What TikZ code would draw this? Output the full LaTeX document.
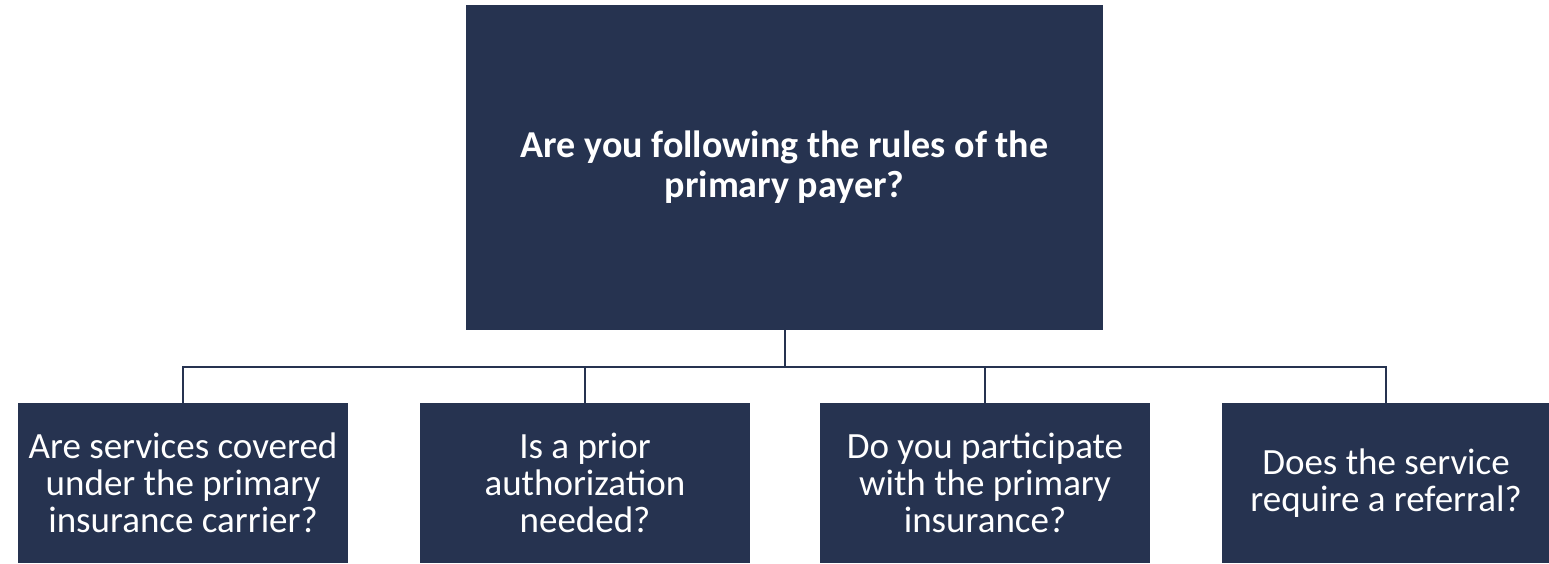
\documentclass[tikz,border=0pt]{standalone}
\usepackage{fontspec}
\setmainfont{Carlito}
\usepackage{tikz}

\definecolor{navy}{HTML}{263350}

\tikzset{
  qbox/.style={fill=navy, text=white, align=center, inner sep=4pt,
    minimum width=330pt, minimum height=160pt,
    font=\fontsize{37}{37}\selectfont},
  topbox/.style={qbox, minimum width=637pt, minimum height=325pt,
    font=\fontsize{38}{40}\selectfont\bfseries},
  link/.style={draw=navy, line width=2pt}
}

\begin{document}
\begin{tikzpicture}[x=1pt,y=1pt]
        \useasboundingbox (0,0) rectangle (1549,563);

        % Main question on top
        \node[topbox] (main) at (784.5,395.5) {Are you following the rules of the\\primary payer?};

        % The four follow-up questions
        \node[qbox] (q1) at (183,80) {Are services covered\\under the primary\\insurance carrier?};
        \node[qbox] (q2) at (585,80) {Is a prior\\authorization\\needed?};
        \node[qbox] (q3) at (985,80) {Do you participate\\with the primary\\insurance?};
        \node[qbox, minimum width=328pt] (q4) at (1386,80) {Does the service\\require a referral?};

        % Connectors from the main box down to each question
        \foreach \q in {q1,q2,q3,q4}
            \draw[link] (main.south) -- ++(0,-37) -| (\q.north);
    \end{tikzpicture}
\end{document}
